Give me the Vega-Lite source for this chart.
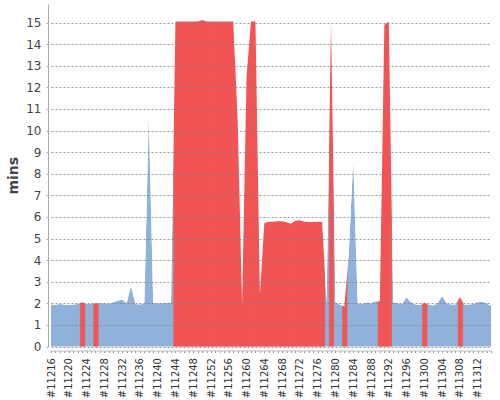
{
  "$schema": "https://vega.github.io/schema/vega-lite/v6.json",
  "width": 440,
  "height": 342.5,
  "autosize": {"type": "none"},
  "padding": {"left": 51, "top": 4, "right": 9, "bottom": 53.5},
  "background": "white",
  "config": {"view": {"stroke": null}},
  "data": {"values": [
    {"build": 11216, "minutes": 1.95, "result": "SUCCESS"},
    {"build": 11217, "minutes": 1.93, "result": "SUCCESS"},
    {"build": 11218, "minutes": 1.97, "result": "SUCCESS"},
    {"build": 11219, "minutes": 1.95, "result": "SUCCESS"},
    {"build": 11220, "minutes": 1.92, "result": "SUCCESS"},
    {"build": 11221, "minutes": 1.95, "result": "SUCCESS"},
    {"build": 11222, "minutes": 1.97, "result": "SUCCESS"},
    {"build": 11223, "minutes": 2.05, "result": "FAILURE"},
    {"build": 11224, "minutes": 1.98, "result": "SUCCESS"},
    {"build": 11225, "minutes": 1.98, "result": "SUCCESS"},
    {"build": 11226, "minutes": 2.0, "result": "FAILURE"},
    {"build": 11227, "minutes": 2.0, "result": "SUCCESS"},
    {"build": 11228, "minutes": 2.0, "result": "SUCCESS"},
    {"build": 11229, "minutes": 1.98, "result": "SUCCESS"},
    {"build": 11230, "minutes": 2.05, "result": "SUCCESS"},
    {"build": 11231, "minutes": 2.12, "result": "SUCCESS"},
    {"build": 11232, "minutes": 2.18, "result": "SUCCESS"},
    {"build": 11233, "minutes": 2.0, "result": "SUCCESS"},
    {"build": 11234, "minutes": 2.8, "result": "SUCCESS"},
    {"build": 11235, "minutes": 1.97, "result": "SUCCESS"},
    {"build": 11236, "minutes": 1.95, "result": "SUCCESS"},
    {"build": 11237, "minutes": 2.0, "result": "SUCCESS"},
    {"build": 11238, "minutes": 10.7, "result": "SUCCESS"},
    {"build": 11239, "minutes": 2.02, "result": "SUCCESS"},
    {"build": 11240, "minutes": 2.0, "result": "SUCCESS"},
    {"build": 11241, "minutes": 2.0, "result": "SUCCESS"},
    {"build": 11242, "minutes": 2.02, "result": "SUCCESS"},
    {"build": 11243, "minutes": 2.02, "result": "SUCCESS"},
    {"build": 11244, "minutes": 15.05, "result": "FAILURE"},
    {"build": 11245, "minutes": 15.05, "result": "FAILURE"},
    {"build": 11246, "minutes": 15.05, "result": "FAILURE"},
    {"build": 11247, "minutes": 15.05, "result": "FAILURE"},
    {"build": 11248, "minutes": 15.05, "result": "FAILURE"},
    {"build": 11249, "minutes": 15.05, "result": "FAILURE"},
    {"build": 11250, "minutes": 15.12, "result": "FAILURE"},
    {"build": 11251, "minutes": 15.05, "result": "FAILURE"},
    {"build": 11252, "minutes": 15.05, "result": "FAILURE"},
    {"build": 11253, "minutes": 15.05, "result": "FAILURE"},
    {"build": 11254, "minutes": 15.05, "result": "FAILURE"},
    {"build": 11255, "minutes": 15.05, "result": "FAILURE"},
    {"build": 11256, "minutes": 15.05, "result": "FAILURE"},
    {"build": 11257, "minutes": 15.05, "result": "FAILURE"},
    {"build": 11258, "minutes": 10.5, "result": "FAILURE"},
    {"build": 11259, "minutes": 1.95, "result": "FAILURE"},
    {"build": 11260, "minutes": 12.5, "result": "FAILURE"},
    {"build": 11261, "minutes": 15.05, "result": "FAILURE"},
    {"build": 11262, "minutes": 15.05, "result": "FAILURE"},
    {"build": 11263, "minutes": 2.4, "result": "FAILURE"},
    {"build": 11264, "minutes": 5.72, "result": "FAILURE"},
    {"build": 11265, "minutes": 5.78, "result": "FAILURE"},
    {"build": 11266, "minutes": 5.78, "result": "FAILURE"},
    {"build": 11267, "minutes": 5.8, "result": "FAILURE"},
    {"build": 11268, "minutes": 5.8, "result": "FAILURE"},
    {"build": 11269, "minutes": 5.75, "result": "FAILURE"},
    {"build": 11270, "minutes": 5.68, "result": "FAILURE"},
    {"build": 11271, "minutes": 5.82, "result": "FAILURE"},
    {"build": 11272, "minutes": 5.85, "result": "FAILURE"},
    {"build": 11273, "minutes": 5.78, "result": "FAILURE"},
    {"build": 11274, "minutes": 5.77, "result": "FAILURE"},
    {"build": 11275, "minutes": 5.77, "result": "FAILURE"},
    {"build": 11276, "minutes": 5.78, "result": "FAILURE"},
    {"build": 11277, "minutes": 5.78, "result": "FAILURE"},
    {"build": 11278, "minutes": 2.0, "result": "SUCCESS"},
    {"build": 11279, "minutes": 15.0, "result": "FAILURE"},
    {"build": 11280, "minutes": 2.05, "result": "SUCCESS"},
    {"build": 11281, "minutes": 1.95, "result": "SUCCESS"},
    {"build": 11282, "minutes": 1.85, "result": "FAILURE"},
    {"build": 11283, "minutes": 4.3, "result": "SUCCESS"},
    {"build": 11284, "minutes": 8.65, "result": "SUCCESS"},
    {"build": 11285, "minutes": 2.0, "result": "SUCCESS"},
    {"build": 11286, "minutes": 1.97, "result": "SUCCESS"},
    {"build": 11287, "minutes": 2.05, "result": "SUCCESS"},
    {"build": 11288, "minutes": 2.0, "result": "SUCCESS"},
    {"build": 11289, "minutes": 2.1, "result": "SUCCESS"},
    {"build": 11290, "minutes": 2.1, "result": "FAILURE"},
    {"build": 11291, "minutes": 14.9, "result": "FAILURE"},
    {"build": 11292, "minutes": 15.05, "result": "FAILURE"},
    {"build": 11293, "minutes": 2.05, "result": "SUCCESS"},
    {"build": 11294, "minutes": 2.0, "result": "SUCCESS"},
    {"build": 11295, "minutes": 1.97, "result": "SUCCESS"},
    {"build": 11296, "minutes": 2.28, "result": "SUCCESS"},
    {"build": 11297, "minutes": 2.05, "result": "SUCCESS"},
    {"build": 11298, "minutes": 1.95, "result": "SUCCESS"},
    {"build": 11299, "minutes": 1.92, "result": "SUCCESS"},
    {"build": 11300, "minutes": 2.03, "result": "FAILURE"},
    {"build": 11301, "minutes": 1.95, "result": "SUCCESS"},
    {"build": 11302, "minutes": 1.9, "result": "SUCCESS"},
    {"build": 11303, "minutes": 2.0, "result": "SUCCESS"},
    {"build": 11304, "minutes": 2.34, "result": "SUCCESS"},
    {"build": 11305, "minutes": 2.0, "result": "SUCCESS"},
    {"build": 11306, "minutes": 1.95, "result": "SUCCESS"},
    {"build": 11307, "minutes": 1.95, "result": "SUCCESS"},
    {"build": 11308, "minutes": 2.28, "result": "FAILURE"},
    {"build": 11309, "minutes": 1.95, "result": "SUCCESS"},
    {"build": 11310, "minutes": 1.95, "result": "SUCCESS"},
    {"build": 11311, "minutes": 1.97, "result": "SUCCESS"},
    {"build": 11312, "minutes": 2.05, "result": "SUCCESS"},
    {"build": 11313, "minutes": 2.07, "result": "SUCCESS"},
    {"build": 11314, "minutes": 2.0, "result": "SUCCESS"},
    {"build": 11315, "minutes": 1.88, "result": "SUCCESS"}
  ]},
  "resolve": {"axis": {"x": "independent", "y": "independent"}},
  "layer": [
    {
      "mark": {"type": "area", "color": "#8EB2D9", "interpolate": "linear"},
      "encoding": {
        "x": {
          "field": "build",
          "type": "quantitative",
          "scale": {"domain": [11216, 11315], "nice": false, "zero": false},
          "axis": {
            "values": [11216,11217,11218,11219,11220,11221,11222,11223,11224,11225,11226,11227,11228,11229,11230,11231,11232,11233,11234,11235,11236,11237,11238,11239,11240,11241,11242,11243,11244,11245,11246,11247,11248,11249,11250,11251,11252,11253,11254,11255,11256,11257,11258,11259,11260,11261,11262,11263,11264,11265,11266,11267,11268,11269,11270,11271,11272,11273,11274,11275,11276,11277,11278,11279,11280,11281,11282,11283,11284,11285,11286,11287,11288,11289,11290,11291,11292,11293,11294,11295,11296,11297,11298,11299,11300,11301,11302,11303,11304,11305,11306,11307,11308,11309,11310,11311,11312,11313,11314,11315],
            "labelExpr": "datum.value % 4 === 0 ? '#' + datum.value : ''",
            "labelAngle": -90,
            "labelFlush": false,
            "labelOverlap": false,
            "labelFont": "DejaVu Sans",
            "labelFontSize": 10,
            "labelColor": "#333333",
            "labelPadding": 5,
            "tickSize": 2,
            "tickColor": "#999999",
            "domainColor": "#bbbbbb",
            "offset": 4,
            "grid": false,
            "title": null
          }
        },
        "y": {
          "field": "minutes",
          "type": "quantitative",
          "scale": {"domain": [0, 15.86], "nice": false},
          "axis": {
            "values": [0,1,2,3,4,5,6,7,8,9,10,11,12,13,14,15],
            "grid": true,
            "gridColor": "#808080",
            "gridDash": [2, 2],
            "gridOpacity": 0.8,
            "gridWidth": 1,
            "zindex": 1,
            "offset": 3,
            "domainColor": "#aaaaaa",
            "tickColor": "#aaaaaa",
            "tickSize": 2,
            "labelFont": "DejaVu Sans",
            "labelFontSize": 12,
            "labelColor": "#444444",
            "labelPadding": 5,
            "title": "mins",
            "titleFont": "DejaVu Sans",
            "titleFontSize": 14,
            "titleFontWeight": "bold",
            "titleColor": "#444444",
            "titlePadding": 5
          }
        }
      }
    },
    {
      "transform": [{"filter": "datum.result === 'FAILURE'"}],
      "mark": {"type": "bar", "color": "#F25454", "stroke": "#F25454", "strokeWidth": 0.6, "binSpacing": 0, "clip": true},
      "encoding": {
        "x": {"field": "build", "type": "quantitative", "bin": {"step": 1, "anchor": 11215.5}, "axis": null},
        "y": {"datum": 15.86, "type": "quantitative", "axis": null},
        "y2": {"datum": 0}
      }
    },
    {
      "mark": {"type": "area", "color": "white", "interpolate": "linear"},
      "encoding": {
        "x": {"field": "build", "type": "quantitative", "axis": null},
        "y": {"field": "minutes", "type": "quantitative", "axis": null},
        "y2": {"datum": 15.86}
      }
    }
  ]
}
